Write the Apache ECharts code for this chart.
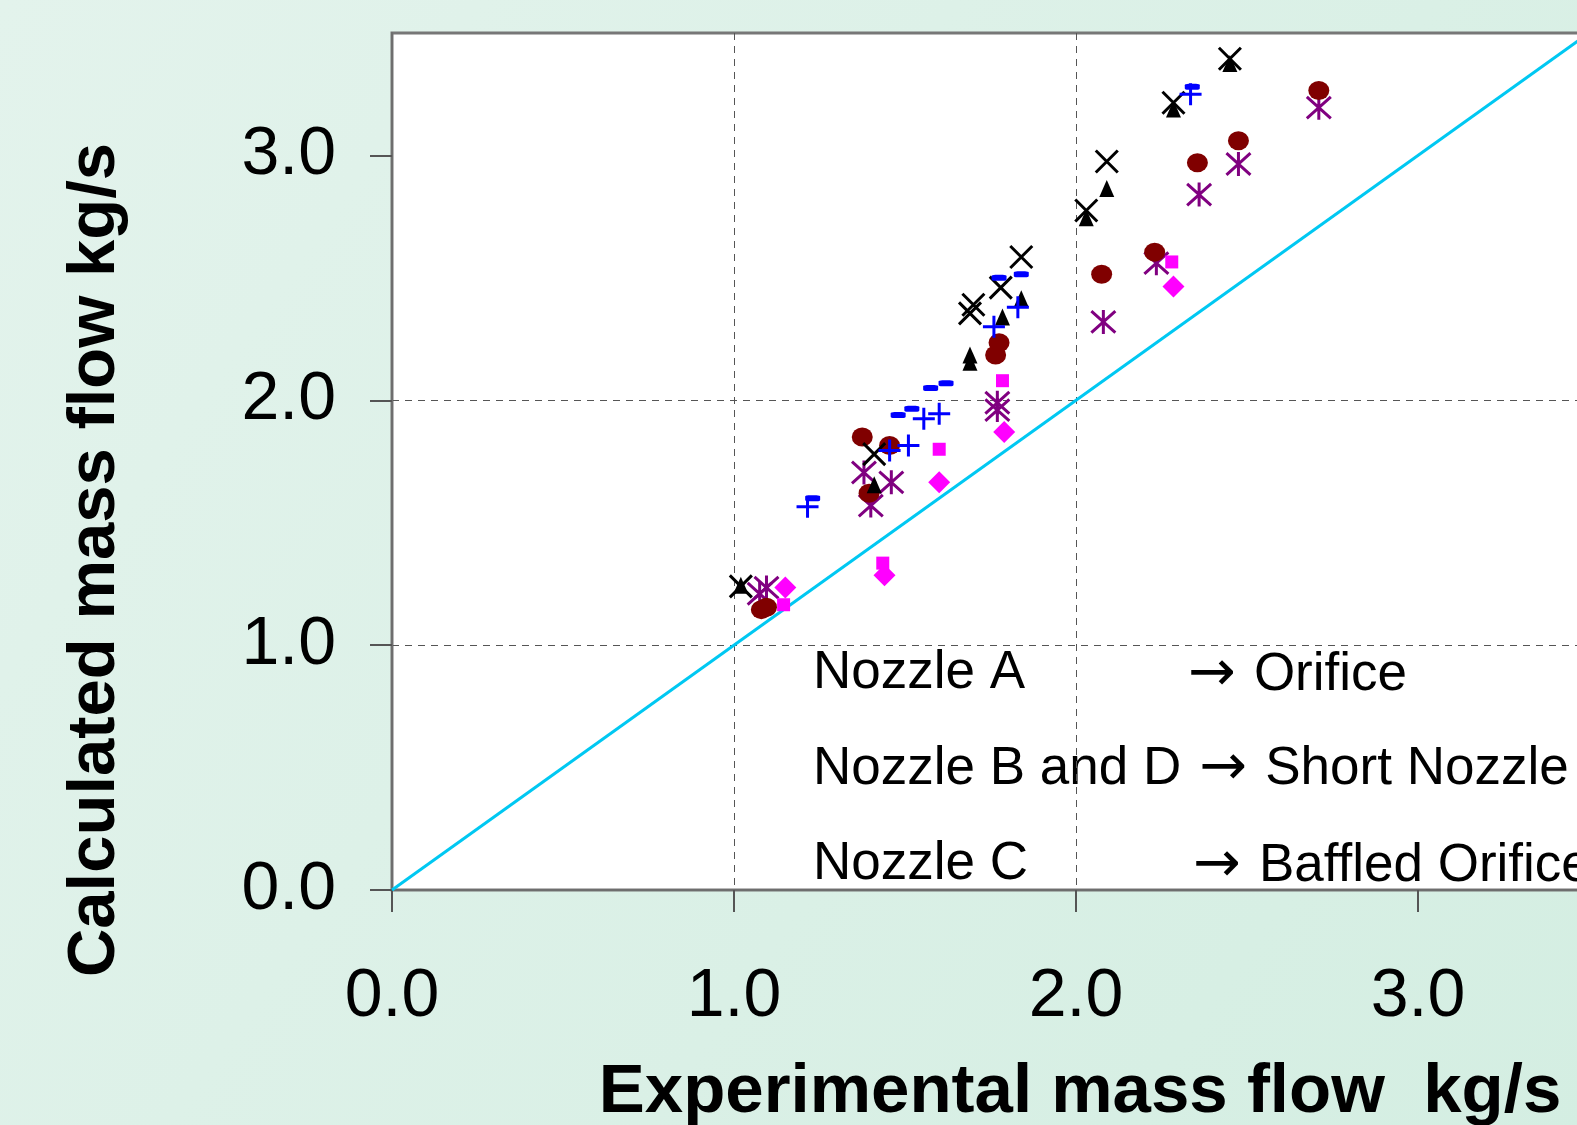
<!DOCTYPE html>
<html>
<head>
<meta charset="utf-8">
<script src="https://cdn.jsdelivr.net/npm/echarts@6/dist/echarts.min.js"></script>
<style>
  html, body { margin: 0; padding: 0; overflow: hidden; }
  #chart { width: 1600px; height: 1125px; }
</style>
</head>
<body>
<div id="chart"></div>
<script>
// axis ticks
var tickValues = [0, 1, 2, 3];

// reference line y = x
var idealLine = [[0, 0], [3.5, 3.5]];

// measured points [experimental, calculated] kg/s
var crossPts = [[1.02, 1.24], [1.41, 1.78], [1.69, 2.355], [1.70, 2.39], [1.78, 2.46],
    [1.84, 2.585], [2.03, 2.775], [2.09, 2.975], [2.285, 3.215], [2.45, 3.395]];
var trianglePts = [[1.02, 1.245], [1.41, 1.655], [1.69, 2.155], [1.69, 2.185], [1.785, 2.34],
    [1.84, 2.415], [2.03, 2.745], [2.09, 2.865], [2.285, 3.19], [2.45, 3.375]];
var dashPts = [[1.23, 1.60], [1.48, 1.94], [1.52, 1.965], [1.575, 2.05], [1.62, 2.07],
    [1.775, 2.50], [1.84, 2.515], [2.34, 3.28]];
var plusPts = [[1.215, 1.565], [1.455, 1.795], [1.51, 1.815], [1.555, 1.925], [1.60, 1.945],
    [1.76, 2.30], [1.83, 2.38], [2.335, 3.25]];
var circlePts = [[1.08, 1.145], [1.095, 1.155], [1.375, 1.85], [1.455, 1.815], [1.395, 1.62],
    [1.765, 2.185], [1.775, 2.235], [2.075, 2.515], [2.23, 2.605], [2.355, 2.97],
    [2.475, 3.06], [2.71, 3.265]];
var asteriskPts = [[1.075, 1.21], [1.095, 1.235], [1.38, 1.705], [1.46, 1.665], [1.40, 1.57],
    [1.77, 1.99], [1.77, 1.96], [2.08, 2.32], [2.235, 2.56], [2.36, 2.84],
    [2.475, 2.965], [2.71, 3.195]];
var squarePts = [[1.145, 1.165], [1.435, 1.335], [1.60, 1.80], [1.785, 2.08], [2.28, 2.565]];
var diamondPts = [[1.15, 1.235], [1.44, 1.285], [1.60, 1.665], [1.79, 1.87], [2.285, 2.465]];

var dom = document.getElementById("chart");
var chart = echarts.init(dom);

var fontFam = "'Liberation Sans', Arial, sans-serif";

// stroke-only marker paths
var crossPath = 'path://M0,0L20,20M20,0L0,20';
var plusPath = 'path://M10,0L10,20M0,10L20,10';
var asteriskPath = 'path://M1,1L19,19M19,1L1,19M10,0L10,20';

function strokeSeries(name, data, path, color, size) {
    return {
        name: name,
        type: 'scatter',
        data: data,
        symbol: path,
        symbolSize: size,
        itemStyle: { color: color, borderColor: color, borderWidth: 3, opacity: 1 },
        z: 5
    };
}
function fillSeries(name, data, sym, color, size) {
    return {
        name: name,
        type: 'scatter',
        data: data,
        symbol: sym,
        symbolSize: size,
        itemStyle: { color: color, opacity: 1 },
        z: 5
    };
}

var noteRich = {
    a: { fontFamily: "'DejaVu Sans', sans-serif", fontSize: 57, fill: '#000', color: '#000' }
};
function note(left, top, text) {
    return {
        type: 'text', left: left, top: top,
        style: { text: text, fontSize: 53, fontFamily: fontFam, fill: '#000', rich: noteRich }
    };
}

var option = {
    backgroundColor: {
        type: 'linear', x: 0, y: 0, x2: 1, y2: 1,
        colorStops: [{ offset: 0, color: '#e3f3ec' }, { offset: 1, color: '#d4eee2' }]
    },
    animation: false,
    textStyle: { fontFamily: fontFam },
    grid: {
        left: 392, top: 33, bottom: 235, right: 11,
        show: true, backgroundColor: '#ffffff', borderColor: '#777', borderWidth: 3
    },
    xAxis: {
        type: 'value', min: 0, max: 3.5, interval: 1,
        axisLine: { show: true, onZero: false, lineStyle: { color: '#6e6e6e', width: 2 } },
        axisTick: { show: true, length: 22, customValues: tickValues, lineStyle: { color: '#555', width: 2 } },
        axisLabel: {
            customValues: tickValues, margin: 73, color: '#000', fontSize: 68, fontFamily: fontFam,
            formatter: function (v) { return v.toFixed(1); }
        },
        splitLine: { show: true, showMinLine: false, showMaxLine: false,
            lineStyle: { color: '#555', width: 1, type: [7, 6] } }
    },
    yAxis: {
        type: 'value', min: 0, max: 3.5, interval: 1,
        axisLine: { show: true, onZero: false, lineStyle: { color: '#6e6e6e', width: 2 } },
        axisTick: { show: true, length: 22, customValues: tickValues, lineStyle: { color: '#555', width: 2 } },
        axisLabel: {
            customValues: tickValues, margin: 56, color: '#000', fontSize: 68, fontFamily: fontFam,
            formatter: function (v) { return v.toFixed(1); }
        },
        splitLine: { show: true, showMinLine: false, showMaxLine: false,
            lineStyle: { color: '#555', width: 1, type: [7, 6] } }
    },
    graphic: [
        note(813, 647, 'Nozzle A'),
        note(1188, 647, '{a|→ }Orifice'),
        note(813, 741, 'Nozzle B and D{a| → }Short Nozzle'),
        note(813, 838, 'Nozzle C'),
        note(1193, 838, '{a|→ }Baffled Orifice'),
        {
            type: 'text', x: 96, y: 560, rotation: Math.PI / 2,
            style: { text: 'Calculated mass flow kg/s', fontSize: 67, fontWeight: 'bold', fontFamily: fontFam,
                fill: '#000', align: 'center', verticalAlign: 'middle' }
        },
        {
            type: 'text', x: 1080, y: 1093,
            style: { text: 'Experimental mass flow  kg/s', fontSize: 69, fontWeight: 'bold', fontFamily: fontFam,
                fill: '#000', align: 'center', verticalAlign: 'middle' }
        }
    ],
    series: [
        {
            name: 'Ideal', type: 'line', data: idealLine, symbol: 'none',
            lineStyle: { color: '#00c8f2', width: 3 }, z: 3
        },
        strokeSeries('Asterisk', asteriskPts, asteriskPath, '#800080', 24),
        fillSeries('Circle', circlePts, 'circle', '#800000', [21, 19]),
        fillSeries('Square', squarePts, 'rect', '#ff00ff', 13),
        fillSeries('Diamond', diamondPts, 'diamond', '#ff00ff', 22),
        fillSeries('Triangle', trianglePts, 'triangle', '#000000', [15, 17]),
        strokeSeries('Cross', crossPts, crossPath, '#000000', 22),
        fillSeries('Dash', dashPts, 'roundRect', '#0000ff', [15, 6]),
        strokeSeries('Plus', plusPts, plusPath, '#0000ff', 22)
    ]
};
chart.setOption(option);
</script>
</body>
</html>
